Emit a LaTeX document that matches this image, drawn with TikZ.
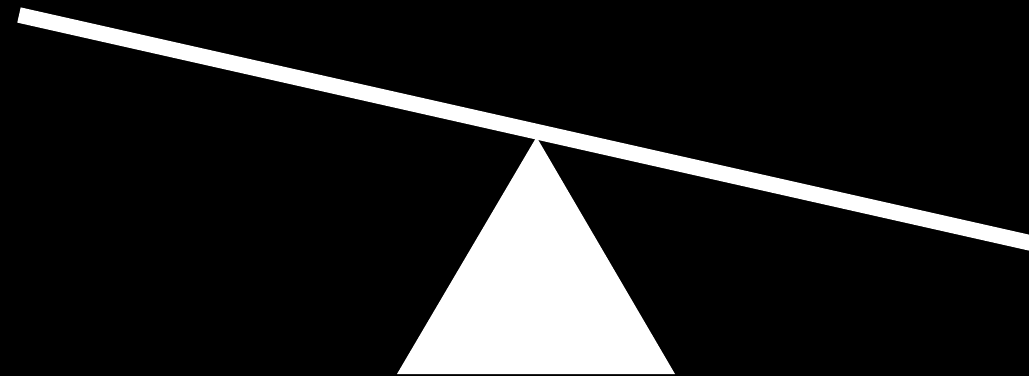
\documentclass[tikz,border=0pt]{standalone}
\usepackage{tikz}

\begin{document}
\begin{tikzpicture}[x=0.02cm, y=-0.02cm, plank/.style={white, line width=0.312cm}]
    \fill[black] (0,0) rectangle (1029,376);
    \clip (0,0) rectangle (1029,376);
    \fill[white] (397,374) -- (536.5,137) -- (675,374) -- cycle;
    \draw[plank] (19,15) -- (1060,249.6);
\end{tikzpicture}
\end{document}
